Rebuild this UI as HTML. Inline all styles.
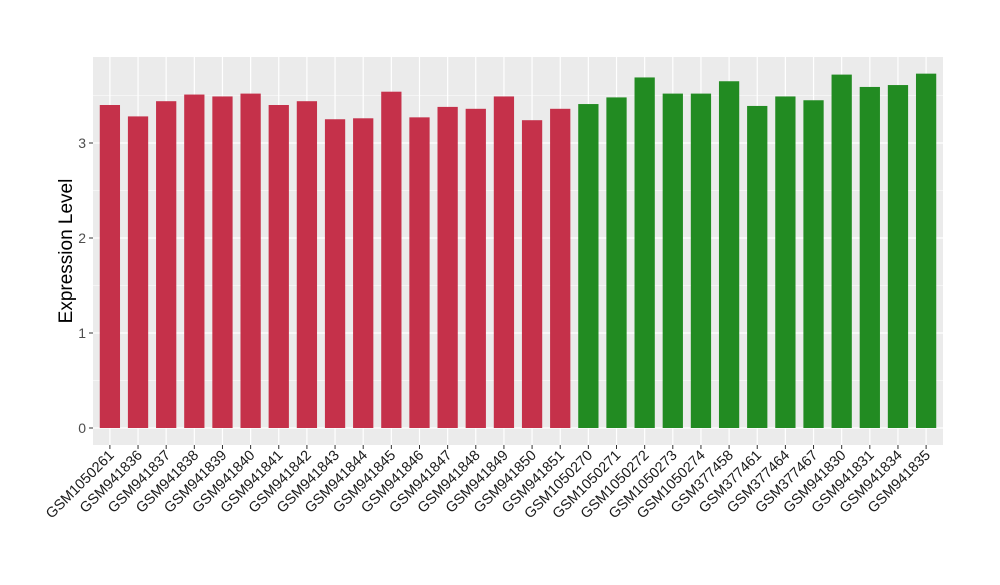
<!DOCTYPE html>
<html><head><meta charset="utf-8"><style>
body{margin:0;background:#fff;}
svg text{font-family:"Liberation Sans",sans-serif;}
</style></head><body>
<svg id="chart" width="1000" height="580">
<rect x="93" y="57" width="850" height="388" fill="#ebebeb"/>
<g id="grid"></g><g id="bars"></g><g id="yaxis"></g><g id="xaxis"></g>
<text transform="translate(72,251) rotate(-90)" text-anchor="middle" font-size="19" fill="#000">Expression Level</text>
</svg>
<script>
const categories=["GSM1050261","GSM941836","GSM941837","GSM941838","GSM941839","GSM941840","GSM941841","GSM941842","GSM941843","GSM941844","GSM941845","GSM941846","GSM941847","GSM941848","GSM941849","GSM941850","GSM941851","GSM1050270","GSM1050271","GSM1050272","GSM1050273","GSM1050274","GSM377458","GSM377461","GSM377464","GSM377467","GSM941830","GSM941831","GSM941834","GSM941835"];
const values=[3.40,3.28,3.44,3.51,3.49,3.52,3.40,3.44,3.25,3.26,3.54,3.27,3.38,3.36,3.49,3.24,3.36,3.41,3.48,3.69,3.52,3.52,3.65,3.39,3.49,3.45,3.72,3.59,3.61,3.73];
const groups=["a","a","a","a","a","a","a","a","a","a","a","a","a","a","a","a","a","b","b","b","b","b","b","b","b","b","b","b","b","b"];
const yTicks=[0,1,2,3];
const NS="http://www.w3.org/2000/svg";
const y=v=>428-v*95;
const step=850/(categories.length-1+1.2);
const x=i=>93+step*(i+0.6);
const bw=step*0.72;
function mk(t,a,p){const e=document.createElementNS(NS,t);for(const k in a)e.setAttribute(k,a[k]);p.appendChild(e);return e;}
const grid=document.getElementById('grid');
for(let i=0;i<yTicks.length;i++){
  const v=yTicks[i];
  const g=mk('line',{x1:93,x2:943,y1:y(v),y2:y(v),stroke:'#fff','stroke-width':1.2},grid);
  
  
  const m=mk('line',{x1:93,x2:943,y1:y(v+0.5),y2:y(v+0.5),stroke:'#fff','stroke-width':0.5},grid);
  
  
  const yl=mk('line',{x1:89,x2:93,y1:y(v),y2:y(v),stroke:'#333'},document.getElementById('yaxis'));
  
  
  const t=mk('text',{x:86,y:y(v)+5,'text-anchor':'end','font-size':14,fill:'#4d4d4d'},document.getElementById('yaxis'));
  t.textContent=v;
  
  
}
for(let i=0;i<categories.length;i++){
  const gl=mk('line',{x1:x(i),x2:x(i),y1:57,y2:445,stroke:'#fff','stroke-width':1.2},grid);
  
  
  const b=mk('rect',{x:x(i)-bw/2,y:y(values[i]),width:bw,height:y(0)-y(values[i]),fill:groups[i]==='a'?'#c5314a':'#228b22'},document.getElementById('bars'));
  
  
  const tk=mk('line',{x1:x(i),x2:x(i),y1:445,y2:449,stroke:'#333'},document.getElementById('xaxis'));
  
  
  const t=mk('text',{transform:`translate(${x(i)+5},${456}) rotate(-45)`,'text-anchor':'end','font-size':14.5,fill:'#1a1a1a'},document.getElementById('xaxis'));
  t.textContent=categories[i];
  
  
}
</script>
</body></html>
